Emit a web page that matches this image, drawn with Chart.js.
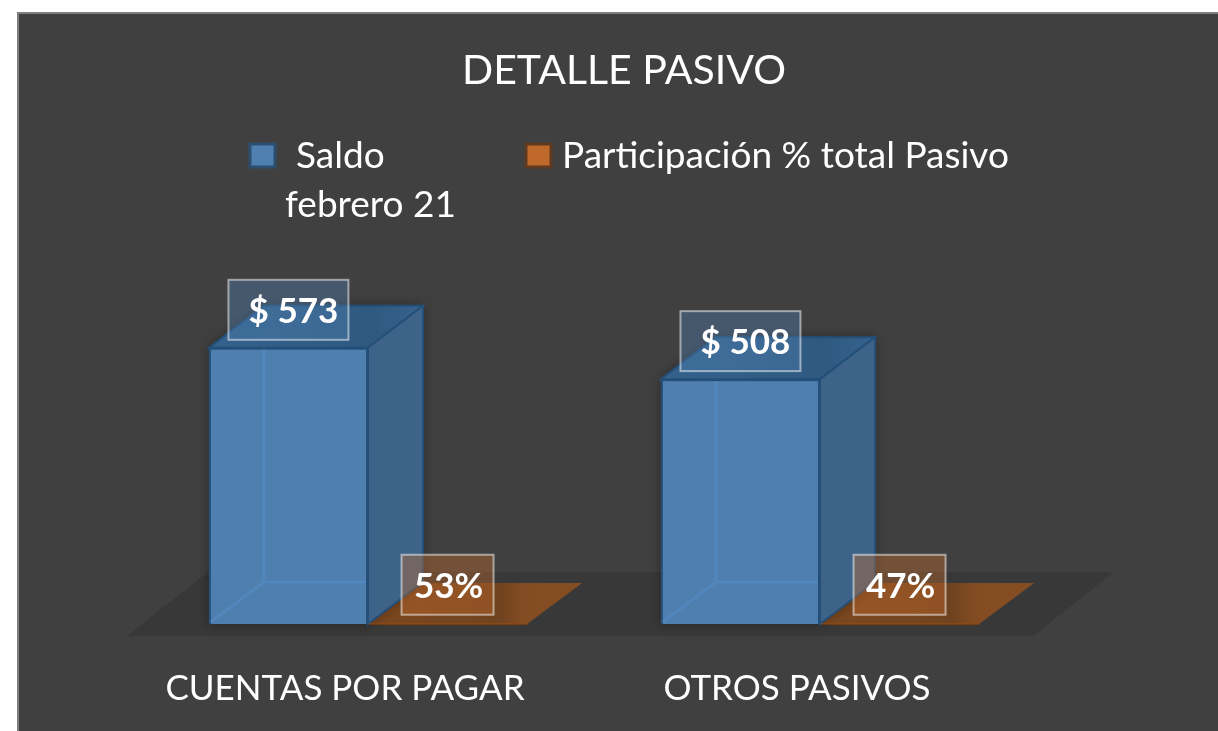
<!DOCTYPE html>
<html lang="es">
<head>
<meta charset="utf-8">
<title>Detalle Pasivo</title>
<script src="https://cdn.jsdelivr.net/npm/chart.js@4"></script>
<style>
  html, body { margin: 0; padding: 0; background: #fff; overflow: hidden; }
  #frame {
    position: absolute; left: 17px; top: 12px; width: 1201px; height: 719px;
    box-sizing: border-box; background: #404040;
    border-left: 2px solid #7f7f7f; border-top: 2px solid #7f7f7f;
  }
  canvas { position: absolute; left: 0; top: 0; }
</style>
</head>
<body>
<div id="frame"></div>
<canvas id="chart" width="1218" height="731"></canvas>
<script>
const chartTitle = "DETALLE PASIVO"
const categories = ["CUENTAS POR PAGAR", "OTROS PASIVOS"]
const saldo = [573, 508]
const participacion = [0.53, 0.47]
const saldoLabels = ["$ 573", "$ 508"]
const participacionLabels = ["53%", "47%"]
const seriesNames = ["Saldo febrero 21", "Participación % total Pasivo"]

const FONT = "Lato, Carlito, Calibri, sans-serif"
const DEPTH_X = 55, DEPTH_Y = 42

function quad(ctx, pts, fill, stroke) {
  ctx.beginPath()
  pts.forEach((p, i) => i ? ctx.lineTo(p[0], p[1]) : ctx.moveTo(p[0], p[1]))
  ctx.closePath()
  if (fill) { ctx.fillStyle = fill; ctx.fill() }
  if (stroke) { ctx.strokeStyle = stroke; ctx.lineWidth = 2; ctx.stroke() }
}

// Fake 3D: floor, side and top faces are hung off the real bar elements
const bars3d = {
  id: "bars3d",
  beforeDatasetsDraw(chart) {
    const { ctx, chartArea } = chart
    const base = chart.getDatasetMeta(0).data[0].base
    ctx.save()

    // floor
    quad(ctx, [
      [chartArea.left - 15, base + 12],
      [chartArea.left + 66, base - 52],
      [chartArea.right + 68, base - 52],
      [chartArea.right - 13, base + 12],
    ], "#383838")

    // orange slabs
    chart.getDatasetMeta(1).data.forEach(bar => {
      const l = bar.x - bar.width / 2, r = bar.x + bar.width / 2
      const g = ctx.createLinearGradient(l, 0, r + DEPTH_X, 0)
      g.addColorStop(0, "#7c4820")
      g.addColorStop(0.62, "#6f431f")
      g.addColorStop(0.72, "#844c22")
      g.addColorStop(1, "#854d22")
      quad(ctx, [[l, bar.base], [l + DEPTH_X, bar.base - 41], [r + DEPTH_X, bar.base - 41], [r, bar.base]], g)
      ctx.strokeStyle = "#7a3f10"
      ctx.lineWidth = 2
      ctx.beginPath()
      ctx.moveTo(l, bar.base)
      ctx.lineTo(r, bar.base)
      ctx.stroke()
    })

    // blue side and top faces
    chart.getDatasetMeta(0).data.forEach(bar => {
      const l = bar.x - bar.width / 2, r = bar.x + bar.width / 2
      ctx.save()
      ctx.shadowColor = "rgba(0,0,0,0.35)"
      ctx.shadowBlur = 12
      quad(ctx, [[l, bar.y], [l + DEPTH_X, bar.y - DEPTH_Y], [r + DEPTH_X, bar.y - DEPTH_Y], [r + DEPTH_X, bar.base - DEPTH_Y], [r, bar.base], [l, bar.base]], "#3d6488")
      ctx.restore()
      const top = ctx.createLinearGradient(l, 0, r + DEPTH_X, 0)
      top.addColorStop(0, "#34628e")
      top.addColorStop(0.75, "#2f597f")
      top.addColorStop(1, "#35628c")
      quad(ctx, [[l, bar.y], [l + DEPTH_X, bar.y - DEPTH_Y], [r + DEPTH_X, bar.y - DEPTH_Y], [r, bar.y]], top, "#234f78")
      quad(ctx, [[r, bar.y], [r + DEPTH_X, bar.y - DEPTH_Y], [r + DEPTH_X, bar.base - DEPTH_Y], [r, bar.base]], "#3d6488", "#234f78")
    })
    ctx.restore()
  },

  afterDatasetsDraw(chart) {
    const { ctx } = chart
    ctx.save()

    // back edges seen through the front face
    chart.getDatasetMeta(0).data.forEach(bar => {
      const l = bar.x - bar.width / 2, r = bar.x + bar.width / 2
      ctx.strokeStyle = "rgba(82,137,192,0.75)"
      ctx.lineWidth = 3
      ctx.beginPath()
      ctx.moveTo(l + DEPTH_X, bar.y + 2)
      ctx.lineTo(l + DEPTH_X, bar.base - DEPTH_Y)
      ctx.lineTo(r - 2, bar.base - DEPTH_Y)
      ctx.moveTo(l + DEPTH_X, bar.base - DEPTH_Y)
      ctx.lineTo(l + 2, bar.base - 2)
      ctx.stroke()
    })

    // value labels, the box is the series colour at 40%
    const drawLabels = (meta, texts, boxW, offset, tint, shift) => {
      meta.data.forEach((bar, i) => {
        const cx = bar.x, cy = bar.y - offset
        ctx.fillStyle = tint
        ctx.fillRect(cx - boxW / 2, cy - 30, boxW, 60)
        ctx.strokeStyle = "rgba(255,255,255,0.5)"
        ctx.lineWidth = 2
        ctx.strokeRect(cx - boxW / 2, cy - 30, boxW, 60)
        ctx.fillStyle = "#fff"
        ctx.font = "bold 35px " + FONT
        ctx.textAlign = "center"
        ctx.textBaseline = "middle"
        ctx.fillText(texts[i], cx + shift, cy + 2)
      })
    }
    drawLabels(chart.getDatasetMeta(0), saldoLabels, 120, 38, "rgba(79,127,174,0.4)", 5)
    drawLabels(chart.getDatasetMeta(1), participacionLabels, 92, 39, "rgba(192,105,44,0.4)", 1)
    ctx.restore()
  },

  // title sits off the plot centre and the legend wraps oddly, so both are drawn by hand
  afterDraw(chart) {
    const { ctx } = chart
    ctx.save()
    ctx.fillStyle = "#fff"
    ctx.font = "41px " + FONT
    ctx.textAlign = "center"
    ctx.textBaseline = "alphabetic"
    ctx.fillText(chartTitle, 624, 84)

    ctx.lineWidth = 3
    ctx.fillStyle = "#4f80b0"
    ctx.strokeStyle = "#2c4f70"
    ctx.fillRect(250, 144, 25, 23)
    ctx.strokeRect(250, 144, 25, 23)
    ctx.fillStyle = "#c0692c"
    ctx.strokeStyle = "#5f3a20"
    ctx.fillRect(526, 144, 25, 23)
    ctx.strokeRect(526, 144, 25, 23)

    ctx.fillStyle = "#fff"
    ctx.font = "37px " + FONT
    ctx.textAlign = "left"
    const words = seriesNames[0].split(" ")
    ctx.fillText(words[0], 296, 168)
    ctx.fillText(words.slice(1).join(" "), 285, 217)
    ctx.fillText(seriesNames[1], 562, 168)
    ctx.restore()
  },
}

new Chart(document.getElementById("chart"), {
  type: "bar",
  data: {
    labels: categories,
    datasets: [
      { label: seriesNames[0], data: saldo, backgroundColor: "#4f7fae", borderColor: "#234f78", borderWidth: 2 },
      { label: seriesNames[1], data: participacion, backgroundColor: "#c0692c", borderWidth: 0 },
    ],
  },
  plugins: [bars3d],
  options: {
    responsive: false,
    animation: false,
    layout: { padding: { left: 142, right: 172, top: 142, bottom: 20 } },
    datasets: { bar: { barPercentage: 1, categoryPercentage: 0.704 } },
    plugins: {
      legend: { display: false },
      tooltip: { enabled: false },
    },
    scales: {
      x: {
        afterFit: axis => { axis.height = 87 },
        grid: { display: false, drawTicks: false },
        border: { display: false },
        ticks: {
          color: "#fff",
          font: { family: FONT, size: 35 },
          padding: 44,
          labelOffset: -23,
          maxRotation: 0,
          autoSkip: false,
        },
      },
      y: { display: false, min: 0, max: 1000 },
    },
  },
})
</script>
</body>
</html>
